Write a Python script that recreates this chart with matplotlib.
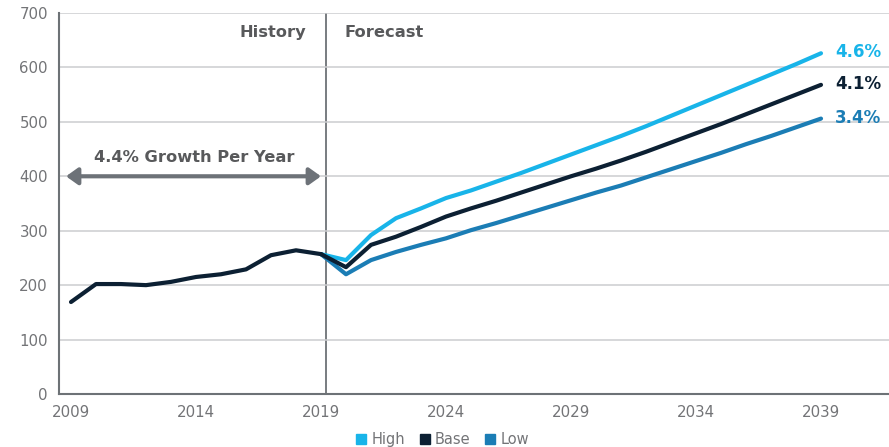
import matplotlib
matplotlib.use("Agg")
import matplotlib.pyplot as plt
from matplotlib.lines import Line2D

plt.rcParams["font.family"] = ["DejaVu Sans"]

# ── Data ──────────────────────────────────────────────────────
hist_years = list(range(2009, 2020))
hist_vals = [169, 202, 202, 200, 206, 215, 220, 229, 255, 264, 257]

fc_years = list(range(2019, 2040))
high = [257, 246, 292, 323, 341, 360, 374, 390, 406, 423, 440, 457, 474,
        492, 511, 530, 549, 568, 587, 606, 626]
base = [257, 233, 274, 289, 307, 326, 341, 355, 370, 385, 400, 414, 429,
        445, 462, 479, 496, 514, 532, 550, 568]
low = [257, 220, 246, 261, 274, 286, 301, 314, 328, 342, 356, 370, 383,
       398, 413, 428, 443, 459, 474, 490, 506]

series_names = ["High", "Base", "Low"]
growth_labels = ["4.6%", "4.1%", "3.4%"]
hist_growth = "4.4% Growth Per Year"

x_ticks = [2009, 2014, 2019, 2024, 2029, 2034, 2039]
y_ticks = [0, 100, 200, 300, 400, 500, 600, 700]

# ── Style ─────────────────────────────────────────────────────
CLR = {
    "High": "#18b4e9",
    "Base": "#0c2033",
    "Low": "#1b7db5",
    "grid": "#cccdcf",
    "spine": "#6d7276",
    "text": "#737477",
    "head": "#58595b",
}

fig = plt.figure(figsize=(8.89, 4.47), dpi=100)
ax = fig.add_axes([59 / 889, 1 - 394 / 447, 1 - 59 / 889, (394 - 13) / 447])
ax.set_xlim(2008.52, 2041.72)
ax.set_ylim(0, 700)

ax.set_yticks(y_ticks)
ax.set_xticks(x_ticks)
ax.tick_params(length=0, labelsize=10.8, labelcolor=CLR["text"])
ax.tick_params(axis="x", pad=8)
ax.tick_params(axis="y", pad=8)
ax.grid(axis="y", color=CLR["grid"], lw=1.1, zorder=0)
for s in ("top", "right"):
    ax.spines[s].set_visible(False)
for s in ("left", "bottom"):
    ax.spines[s].set_color(CLR["spine"])
    ax.spines[s].set_linewidth(1.5)
    ax.spines[s].set_zorder(3)

# history / forecast divider
ax.axvline(2019.2, color=CLR["spine"], lw=1.3, zorder=1)
ax.text(2018.4, 665, "History", ha="right", va="center", fontsize=11.7,
        fontweight="bold", color=CLR["head"])
ax.text(2019.96, 665, "Forecast", ha="left", va="center", fontsize=11.7,
        fontweight="bold", color=CLR["head"])

# growth span arrow
ax.annotate("", xy=(2019.0, 400), xytext=(2008.8, 400),
            arrowprops=dict(arrowstyle="<|-|>,head_length=0.7,head_width=0.5",
                            color="#6d7278", lw=3, shrinkA=0, shrinkB=0))
ax.text(2013.92, 435, hist_growth, ha="center", va="center", fontsize=11.7,
        fontweight="bold", color=CLR["head"])

# forecast scenarios, then the history line on top
for name, vals in [("High", high), ("Low", low), ("Base", base)]:
    ax.plot(fc_years, vals, color=CLR[name], lw=3.0, solid_capstyle="round",
            solid_joinstyle="round", zorder=4)
ax.plot(hist_years, hist_vals, color=CLR["Base"], lw=3.0,
        solid_capstyle="round", solid_joinstyle="round", zorder=5)

for name, vals, lab in zip(series_names, [high, base, low], growth_labels):
    ax.text(fc_years[-1] + 0.56, vals[-1] + 2, lab, ha="left", va="center",
            fontsize=12, fontweight="bold", color=CLR[name])

# legend
handles = [Line2D([], [], marker="s", ls="none", ms=6.5, color=CLR[n]) for n in series_names]
fig.legend(handles, series_names, loc="lower center", ncol=3, frameon=False,
           bbox_to_anchor=(442 / 889, -0.03), fontsize=10.5,
           handletextpad=0.25, columnspacing=0.9, handlelength=0.9,
           labelcolor=CLR["text"])

fig.savefig("out.png", dpi=100, facecolor="white")
